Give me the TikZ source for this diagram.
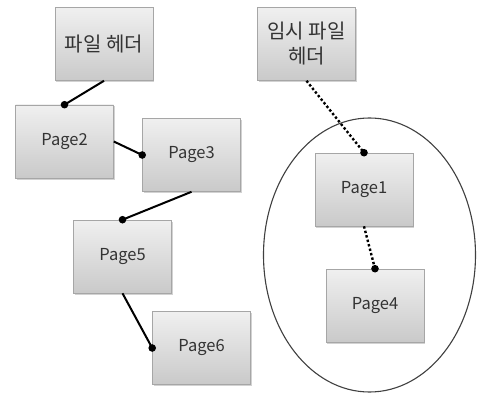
\documentclass[tikz,border=0pt]{standalone}
\usepackage{fontspec}
\setmainfont{Noto Sans CJK KR}
\usetikzlibrary{shadows}
\begin{document}
\begin{tikzpicture}[x=1pt,y=-1pt,
  pagebox/.style={draw=gray!70, line width=0.6pt, top color=gray!12, bottom color=gray!42,
    minimum width=98pt, minimum height=73pt, inner sep=2pt, align=center,
    font=\fontsize{16.5}{20}\selectfont, text=black!80,
    drop shadow={shadow xshift=1.2pt, shadow yshift=-1.5pt, opacity=0.35}},
  korbox/.style={pagebox, font=\fontsize{20}{25}\selectfont},
  solidlink/.style={line width=2pt, black},
  dotlink/.style={line width=2.4pt, black, dash pattern=on 2.4pt off 2.2pt},
  enddot/.style={fill=black}]
\useasboundingbox (0,0) rectangle (477,404);
\fill[white] (0,0) rectangle (477,404);
% ellipse
\draw[line width=1.1pt, black!75] (369.5,255) ellipse [x radius=106, y radius=137];
% nodes
\node[korbox] (h1) at (104,44) {파일 헤더};
\node[pagebox] (p2) at (64.5,141.5) {Page2};
\node[pagebox] (p3) at (191.5,155) {Page3};
\node[pagebox] (p5) at (122.5,256.5) {Page5};
\node[pagebox] (p6) at (201.5,348) {Page6};
\node[korbox] (h2) at (306.5,44) {임시 파일\\헤더};
\node[pagebox] (p1) at (364,189.5) {Page1};
\node[pagebox] (p4) at (375,305.5) {Page4};
% connectors
\draw[solidlink] (h1.south) -- (p2.north);
\draw[solidlink] (p2.east) -- (p3.west);
\draw[solidlink] (p3.south) -- (p5.north);
\draw[solidlink] (p5.south) -- (p6.west);
\draw[dotlink] (h2.south) -- (p1.north);
\draw[dotlink] (p1.south) -- (p4.north);
% end dots
\foreach \a in {p2.north, p3.west, p5.north, p6.west, p1.north, p4.north}
  \fill[enddot] (\a) circle[radius=3.8pt];
\end{tikzpicture}
\end{document}
